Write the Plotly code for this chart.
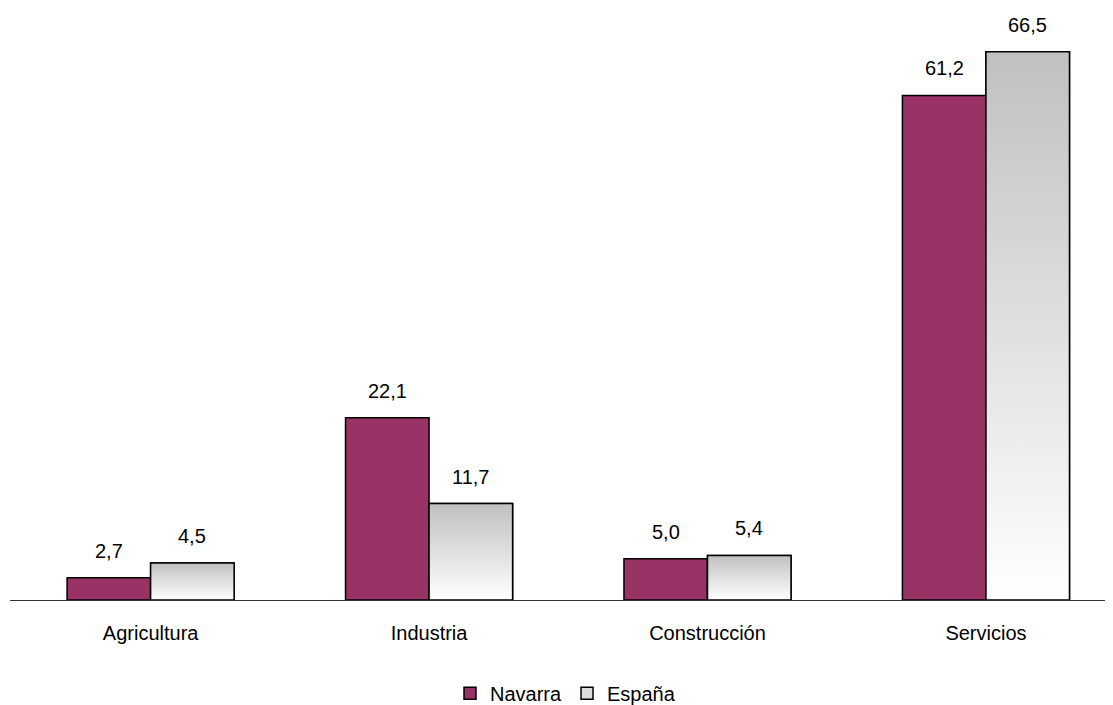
import plotly.graph_objects as go

categories = ["Agricultura", "Industria", "Construcción", "Servicios"]
navarra = [2.7, 22.1, 5.0, 61.2]
espana = [4.5, 11.7, 5.4, 66.5]
series_names = ["Navarra", "España"]

NAV_COLOR = "#993366"
BAR_W = 0.3
FONT = "Liberation Sans, Arial, sans-serif"
FS = 20

def fmt(v):
    return f"{v:.1f}".replace(".", ",")

idx = list(range(len(categories)))
fig = go.Figure()

fig.add_trace(go.Bar(
    x=idx, y=navarra, name=series_names[0], width=BAR_W, offset=-BAR_W,
    marker=dict(color=NAV_COLOR, line=dict(color="black", width=1.5)),
))
fig.add_trace(go.Bar(
    x=idx, y=espana, name=series_names[1], width=BAR_W, offset=0,
    marker=dict(color="#dcdcdc", line=dict(color="black", width=1.5)),
))

# gradient overlays for España bars (per bar, grey top -> white bottom)
for i, v in zip(idx, espana):
    fig.add_trace(go.Scatter(
        x=[i, i, i + BAR_W, i + BAR_W, i], y=[0, v, v, 0, 0],
        mode="lines", fill="toself",
        fillgradient=dict(type="vertical",
                          colorscale=[[0, "#ffffff"], [1, "#c0c0c0"]]),
        line=dict(color="black", width=1.5),
        showlegend=False, hoverinfo="skip",
    ))

for i, v in zip(idx, navarra):
    fig.add_annotation(x=i - BAR_W / 2, y=v, text=fmt(v), showarrow=False,
                       yanchor="bottom", yshift=14,
                       font=dict(size=FS, color="black", family=FONT))
for i, v in zip(idx, espana):
    fig.add_annotation(x=i + BAR_W / 2, y=v, text=fmt(v), showarrow=False,
                       yanchor="bottom", yshift=14,
                       font=dict(size=FS, color="black", family=FONT))

fig.update_layout(
    width=1113, height=705,
    margin=dict(l=2, r=0, t=2, b=113, autoexpand=False),
    plot_bgcolor="white", paper_bgcolor="white",
    barmode="overlay",
    font=dict(family=FONT, size=FS, color="black"),
    xaxis=dict(
        range=[-0.505, 3.485], tickvals=idx, ticktext=categories,
        showgrid=False, zeroline=False, showline=False, ticks="",
        ticklabelstandoff=19, tickfont=dict(size=FS),
    ),
    yaxis=dict(
        range=[0, 71.56], showgrid=False, zeroline=True, zerolinecolor="#333333",
        zerolinewidth=1, showticklabels=False, ticks="", showline=False,
    ),
    legend=dict(orientation="h", x=0.5, xanchor="center", y=-0.158,
                yanchor="middle", font=dict(size=FS), itemwidth=30,
                traceorder="normal"),
    showlegend=True,
)

fig.write_html("out.html")
